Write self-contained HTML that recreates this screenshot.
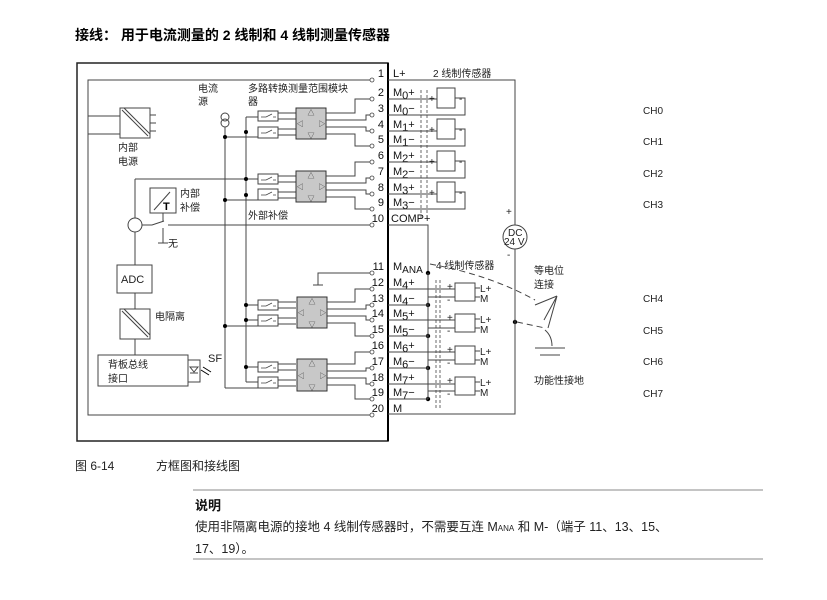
<!DOCTYPE html>
<html><head><meta charset="utf-8"><style>
html,body{margin:0;padding:0;background:#fff;}
svg{display:block;font-family:"Liberation Sans","Noto Sans CJK SC",sans-serif;}
.t{font-size:11px;fill:#111}
.c{font-size:10px;fill:#222}
</style></head><body>
<svg width="827" height="600" viewBox="0 0 827 600" xmlns="http://www.w3.org/2000/svg">
<text x="75" y="40" style="font-size:14px;font-weight:bold" fill="#000">接线： 用于电流测量的 2 线制和 4 线制测量传感器</text>

<g stroke="#444" fill="none" stroke-width="1">
<!-- outer box -->
<rect x="77" y="63" width="311" height="378" stroke="#222" stroke-width="1.5"/>
<line x1="388" y1="63" x2="388" y2="441" stroke="#000" stroke-width="2"/>
<!-- inner box -->
<polyline points="372,80 88,80 88,415 372,415"/>
<!-- power supply -->
<rect x="120" y="108" width="30" height="30"/>
<line x1="122" y1="110" x2="148" y2="136"/><line x1="124" y1="108" x2="150" y2="134"/>
<line x1="88" y1="116" x2="120" y2="116"/><line x1="88" y1="134" x2="120" y2="134"/>
<line x1="150" y1="115" x2="156" y2="115"/><line x1="150" y1="123" x2="156" y2="123"/><line x1="150" y1="131" x2="156" y2="131"/>
<!-- current source -->
<circle cx="225" cy="117" r="4"/><circle cx="225" cy="123" r="4"/>
<line x1="225" y1="127" x2="225" y2="388"/>
<line x1="225" y1="388" x2="258" y2="388"/>
<line x1="246" y1="117" x2="246" y2="382"/>
<line x1="246" y1="117" x2="258" y2="117"/>
<line x1="225" y1="137" x2="258" y2="137"/>
<line x1="135" y1="179" x2="258" y2="179"/>
<line x1="225" y1="200" x2="258" y2="200"/>
<line x1="246" y1="305" x2="258" y2="305"/>
<line x1="225" y1="326" x2="258" y2="326"/>
<line x1="246" y1="320" x2="258" y2="320"/>
<line x1="246" y1="367" x2="258" y2="367"/>
<line x1="246" y1="382" x2="258" y2="382"/>
<!-- switches -->
<g fill="#fff">
<rect x="258" y="111" width="20" height="10"/><rect x="258" y="127" width="20" height="11"/>
<rect x="258" y="174" width="20" height="10"/><rect x="258" y="189" width="20" height="11"/>
<rect x="258" y="300" width="20" height="10"/><rect x="258" y="315" width="20" height="11"/>
<rect x="258" y="362" width="20" height="10"/><rect x="258" y="377" width="20" height="11"/>
</g>
<g stroke-width="0.8">
<path d="M261 117h5l6-3M273 117h3"/><path d="M261 133h5l6-3M273 133h3"/>
<path d="M261 180h5l6-3M273 180h3"/><path d="M261 195h5l6-3M273 195h3"/>
<path d="M261 306h5l6-3M273 306h3"/><path d="M261 321h5l6-3M273 321h3"/>
<path d="M261 368h5l6-3M273 368h3"/><path d="M261 383h5l6-3M273 383h3"/>
</g>
<!-- switch to mux -->
<path d="M278 113h18M278 119h18M278 129h18M278 135h18"/>
<path d="M278 176h18M278 182h18M278 192h18M278 198h18"/>
<path d="M278 302h18M278 308h18M278 318h18M278 324h18"/>
<path d="M278 364h18M278 370h18M278 380h18M278 386h18"/>
<!-- mux boxes -->
<g fill="#c8c8c8" stroke="#333">
<rect x="296" y="108" width="30" height="31"/><rect x="296" y="171" width="30" height="31"/>
<rect x="297" y="297" width="30" height="31"/><rect x="297" y="359" width="30" height="32"/>
</g>
<!-- mux to terminals -->
<path d="M326 113h29v-14h17M326 120h40v-5h6M326 127h40v4h6M326 134h29v12h17"/>
<path d="M326 176h29v-14h17M326 183h40v-5h6M326 190h40v4h6M326 197h29v12h17"/>
<path d="M327 302h28v-13h17M327 309h39v-4h6M327 316h39v4h6M327 323h28v13h17"/>
<path d="M327 364h28v-12h17M327 371h39v-3h6M327 378h39v6h6M327 385h28v14h17"/>
<!-- temp compensation -->
<line x1="135" y1="179" x2="135" y2="218"/>
<circle cx="135" cy="225" r="7"/>
<line x1="135" y1="232" x2="135" y2="265"/>
<rect x="150" y="188" width="26" height="25"/>
<line x1="154" y1="210" x2="170" y2="192"/>
<path d="M142 225h10l12-4"/><line x1="163" y1="213" x2="163" y2="221"/>
<line x1="163" y1="228" x2="163" y2="243"/><line x1="158" y1="243" x2="168" y2="243"/>
<line x1="168" y1="225" x2="372" y2="225"/>
<!-- ADC chain -->
<rect x="117" y="265" width="35" height="28"/>
<line x1="135" y1="293" x2="135" y2="309"/>
<rect x="120" y="309" width="30" height="30"/>
<line x1="122" y1="311" x2="148" y2="337"/><line x1="124" y1="309" x2="150" y2="335"/>
<line x1="135" y1="339" x2="135" y2="355"/>
<rect x="98" y="355" width="90" height="31"/>
<rect x="188" y="360" width="12" height="22"/>
<path d="M190 367h8l-4 5z"/><line x1="190" y1="373" x2="198" y2="373"/>
<path d="M201 370l8 5M203 367l8 5" stroke="#000"/>
<!-- ground at 11 -->
<path d="M372 273h-54v12M313 285h10"/>
<!-- terminal lines row 1-->
<line x1="372" y1="80" x2="372" y2="80"/>
</g>
<!-- dots -->
<g fill="#000">
<circle cx="225" cy="137" r="2"/><circle cx="225" cy="200" r="2"/><circle cx="225" cy="326" r="2"/>
<circle cx="246" cy="132" r="2"/><circle cx="246" cy="179" r="2"/><circle cx="246" cy="195" r="2"/>
<circle cx="246" cy="305" r="2"/><circle cx="246" cy="320" r="2"/><circle cx="246" cy="367" r="2"/>
<circle cx="428" cy="273" r="2.2"/><circle cx="428" cy="305" r="2.2"/><circle cx="428" cy="336" r="2.2"/><circle cx="428" cy="368" r="2.2"/><circle cx="428" cy="399" r="2.2"/>
<circle cx="515" cy="322" r="2.2"/>
</g>
<!-- terminal circles -->
<g fill="#fff" stroke="#444" stroke-width="0.8">
<circle cx="372" cy="80" r="2"/><circle cx="372" cy="99" r="2"/><circle cx="372" cy="115" r="2"/><circle cx="372" cy="131" r="2"/><circle cx="372" cy="146" r="2"/><circle cx="372" cy="162" r="2"/><circle cx="372" cy="178" r="2"/><circle cx="372" cy="194" r="2"/><circle cx="372" cy="209" r="2"/><circle cx="372" cy="225" r="2"/>
<circle cx="372" cy="273" r="2"/><circle cx="372" cy="289" r="2"/><circle cx="372" cy="305" r="2"/><circle cx="372" cy="320" r="2"/><circle cx="372" cy="336" r="2"/><circle cx="372" cy="352" r="2"/><circle cx="372" cy="368" r="2"/><circle cx="372" cy="384" r="2"/><circle cx="372" cy="399" r="2"/><circle cx="372" cy="415" r="2"/>
</g>
<!-- mux glyphs -->
<g style="font-size:7px" fill="#333" text-anchor="middle">
<text x="311" y="115">△</text><text x="311" y="138">▽</text><text x="300" y="126">◁</text><text x="322" y="126">▷</text>
<text x="311" y="178">△</text><text x="311" y="201">▽</text><text x="300" y="189">◁</text><text x="322" y="189">▷</text>
<text x="312" y="304">△</text><text x="312" y="327">▽</text><text x="301" y="315">◁</text><text x="323" y="315">▷</text>
<text x="312" y="366">△</text><text x="312" y="390">▽</text><text x="301" y="378">◁</text><text x="323" y="378">▷</text>
</g>
<text x="163" y="210" style="font-size:11px;font-weight:bold">T</text>

<!-- left labels -->
<g class="c">
<text x="198" y="92">电流</text><text x="198" y="105">源</text>
<text x="248" y="92">多路转换测量范围模块</text><text x="248" y="105">器</text>
<text x="118" y="151">内部</text><text x="118" y="165">电源</text>
<text x="180" y="197">内部</text><text x="180" y="211">补偿</text>
<text x="248" y="219">外部补偿</text>
<text x="168" y="247">无</text>
<text x="121" y="283" style="font-size:11px">ADC</text>
<text x="155" y="320">电隔离</text>
<text x="108" y="368">背板总线</text><text x="108" y="382">接口</text>
<text x="208" y="362" style="font-size:11px">SF</text>
</g>

<!-- terminal numbers -->
<g class="t" text-anchor="end">
<text x="384" y="77">1</text><text x="384" y="96">2</text><text x="384" y="112">3</text><text x="384" y="128">4</text><text x="384" y="143">5</text><text x="384" y="159">6</text><text x="384" y="175">7</text><text x="384" y="191">8</text><text x="384" y="206">9</text><text x="384" y="222">10</text>
<text x="384" y="270">11</text><text x="384" y="286">12</text><text x="384" y="302">13</text><text x="384" y="317">14</text><text x="384" y="333">15</text><text x="384" y="349">16</text><text x="384" y="365">17</text><text x="384" y="381">18</text><text x="384" y="396">19</text><text x="384" y="412">20</text>
</g>
<g class="t">
<text x="393" y="77">L+</text>
<text x="393" y="96">M<tspan dy="3">0</tspan><tspan dy="-3">+</tspan></text>
<text x="393" y="112">M<tspan dy="3">0</tspan><tspan dy="-3">−</tspan></text>
<text x="393" y="128">M<tspan dy="3">1</tspan><tspan dy="-3">+</tspan></text>
<text x="393" y="143">M<tspan dy="3">1</tspan><tspan dy="-3">−</tspan></text>
<text x="393" y="159">M<tspan dy="3">2</tspan><tspan dy="-3">+</tspan></text>
<text x="393" y="175">M<tspan dy="3">2</tspan><tspan dy="-3">−</tspan></text>
<text x="393" y="191">M<tspan dy="3">3</tspan><tspan dy="-3">+</tspan></text>
<text x="393" y="206">M<tspan dy="3">3</tspan><tspan dy="-3">−</tspan></text>
<text x="391" y="222">COMP+</text>
<text x="393" y="270">M<tspan dy="3" style="font-size:10px">ANA</tspan></text>
<text x="393" y="286">M<tspan dy="3">4</tspan><tspan dy="-3">+</tspan></text>
<text x="393" y="302">M<tspan dy="3">4</tspan><tspan dy="-3">−</tspan></text>
<text x="393" y="317">M<tspan dy="3">5</tspan><tspan dy="-3">+</tspan></text>
<text x="393" y="333">M<tspan dy="3">5</tspan><tspan dy="-3">−</tspan></text>
<text x="393" y="349">M<tspan dy="3">6</tspan><tspan dy="-3">+</tspan></text>
<text x="393" y="365">M<tspan dy="3">6</tspan><tspan dy="-3">−</tspan></text>
<text x="393" y="381">M<tspan dy="3">7</tspan><tspan dy="-3">+</tspan></text>
<text x="393" y="396">M<tspan dy="3">7</tspan><tspan dy="-3">−</tspan></text>
<text x="393" y="412">M</text>
</g>

<!-- right side wiring -->
<g stroke="#444" fill="none" stroke-width="1">
<path d="M388 80H515V225M515 249V414H388"/>
<circle cx="515" cy="237" r="12"/>
<path d="M388 225h40v46"/>
<!-- 2-wire sensors -->
<g>
<rect x="437" y="88" width="18" height="20"/><path d="M388 99h49M455 98h10v17H388"/>
<rect x="437" y="119" width="18" height="20"/><path d="M388 131h49M455 129h10v17H388"/>
<rect x="437" y="151" width="18" height="20"/><path d="M388 162h49M455 161h10v17H388"/>
<rect x="437" y="182" width="18" height="20"/><path d="M388 194h49M455 192h10v17H388"/>
</g>
<path d="M421 90V218M427 90V218" stroke-dasharray="3,2" stroke-width="0.8"/>
<!-- 4-wire sensors -->
<line x1="428" y1="273" x2="428" y2="399"/>
<g>
<rect x="455" y="283" width="20" height="18"/><path d="M388 289h67M388 305h40M428 297h27M475 288h5M475 297h5"/>
<rect x="455" y="314" width="20" height="18"/><path d="M388 320h67M388 336h40M428 328h27M475 319h5M475 328h5"/>
<rect x="455" y="346" width="20" height="18"/><path d="M388 352h67M388 368h40M428 360h27M475 351h5M475 360h5"/>
<rect x="455" y="377" width="20" height="18"/><path d="M388 384h67M388 399h40M428 391h27M475 382h5M475 391h5"/>
</g>
<path d="M436 280V408M440 280V408" stroke-dasharray="3,2" stroke-width="0.8"/>
<!-- equipotential -->
<path d="M430 264 Q490 275 535 300" stroke-dasharray="6,4"/>
<path d="M517 322 L545 328" stroke-dasharray="6,4"/>
<path d="M557 296 L535 305 M557 296 L544 320 M557 296 L548 328"/>
<path d="M545 330 Q552 336 552 346"/>
<path d="M535 348h30M540 355h20"/>
</g>
<g class="c">
<text x="433" y="77">2 线制传感器</text>
<text x="436" y="269">4 线制传感器</text>
<text x="429" y="102">+</text><text x="459" y="102">-</text>
<text x="429" y="133">+</text><text x="459" y="133">-</text>
<text x="429" y="165">+</text><text x="459" y="165">-</text>
<text x="429" y="196">+</text><text x="459" y="196">-</text>
<text x="447" y="290">+</text><text x="447" y="303">-</text><text x="480" y="292">L+</text><text x="480" y="302">M</text>
<text x="447" y="321">+</text><text x="447" y="334">-</text><text x="480" y="323">L+</text><text x="480" y="333">M</text>
<text x="447" y="353">+</text><text x="447" y="366">-</text><text x="480" y="355">L+</text><text x="480" y="365">M</text>
<text x="447" y="384">+</text><text x="447" y="397">-</text><text x="480" y="386">L+</text><text x="480" y="396">M</text>
<text x="506" y="215">+</text><text x="507" y="258">-</text>
<text x="508" y="236" style="font-size:10px">DC</text><text x="504" y="245" style="font-size:10px">24 V</text>
<text x="534" y="274">等电位</text><text x="534" y="288">连接</text>
<text x="534" y="384">功能性接地</text>
<text x="643" y="114">CH0</text><text x="643" y="145">CH1</text><text x="643" y="177">CH2</text><text x="643" y="208">CH3</text>
<text x="643" y="302">CH4</text><text x="643" y="334">CH5</text><text x="643" y="365">CH6</text><text x="643" y="397">CH7</text>
</g>

<!-- caption & note -->
<g style="font-size:12px" fill="#222">
<text x="75" y="470">图 6-14</text>
<text x="156" y="470">方框图和接线图</text>
</g>
<line x1="193" y1="490" x2="763" y2="490" stroke="#888"/>
<text x="195" y="510" style="font-size:13px;font-weight:bold" fill="#111">说明</text>
<text x="195" y="531" style="font-size:12.5px" fill="#222">使用非隔离电源的接地 4 线制传感器时，不需要互连 M<tspan style="font-size:8px">ANA</tspan> 和 M-（端子 11、13、15、</text>
<text x="195" y="553" style="font-size:12.5px" fill="#222">17、19）。</text>
<line x1="193" y1="559" x2="763" y2="559" stroke="#888"/>
</svg>
</body></html>
